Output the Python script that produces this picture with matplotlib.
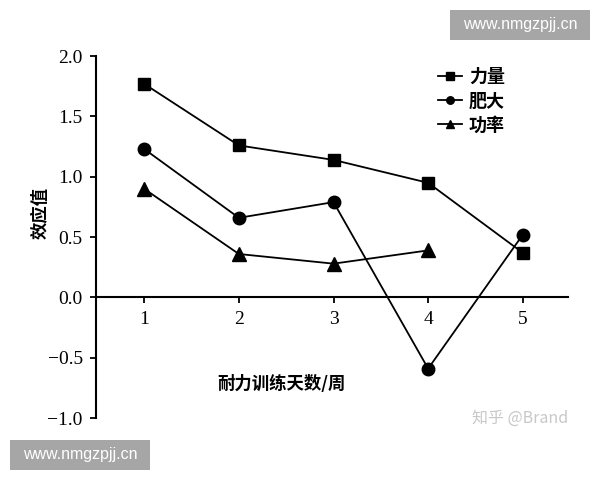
import matplotlib
matplotlib.use("Agg")
import matplotlib.pyplot as plt
from matplotlib.patches import Rectangle

days = [1, 2, 3, 4, 5]
strength = [1.77, 1.26, 1.14, 0.95, 0.37]
hypertrophy = [1.23, 0.66, 0.79, -0.59, 0.52]
power_days = [1, 2, 3, 4]
power = [0.90, 0.36, 0.28, 0.39]
series_labels = ["力量", "肥大", "功率"]
yticks = [-1.0, -0.5, 0.0, 0.5, 1.0, 1.5, 2.0]
ytick_labels = ["\u22121.0", "\u22120.5", "0.0", "0.5", "1.0", "1.5", "2.0"]
xlabel = "耐力训练天数/周"
ylabel = "效应值"

cjk = ["Noto Sans CJK SC", "DejaVu Sans"]
serif = "Liberation Serif"

fig = plt.figure(figsize=(6, 4.8), dpi=100)
fig.patch.set_facecolor("white")
ax = fig.add_axes([0.16, 0.129, 0.787, 0.754])

ax.plot(days, strength, color="black", lw=1.3, marker="s", ms=8.5, label=series_labels[0])
ax.plot(days, hypertrophy, color="black", lw=1.3, marker="o", ms=9, label=series_labels[1])
ax.plot(power_days, power, color="black", lw=1.3, marker="^", ms=9.5, label=series_labels[2])

ax.set_xlim(0.49, 5.48)
ax.set_ylim(-1.0, 2.0)
ax.spines["top"].set_visible(False)
ax.spines["right"].set_visible(False)
ax.spines["bottom"].set_position(("data", 0))
ax.spines["left"].set_linewidth(1.5)
ax.spines["bottom"].set_linewidth(1.5)
ax.set_xticks(days)
ax.set_xticklabels([str(d) for d in days], family=serif, fontsize=14)
ax.set_yticks(yticks)
ax.set_yticklabels(ytick_labels, family=serif, fontsize=14)
ax.tick_params(axis="both", direction="out", length=4.5, width=1.3, pad=5)

ax.text(2.45, -0.72, xlabel, ha="center", va="center", fontsize=12.5,
        fontweight="bold", family=cjk)
fig.text(0.067, 0.556, ylabel, rotation=90, ha="center", va="center",
         fontsize=12.5, fontweight="bold", family=cjk)

leg = ax.legend(loc="upper left", bbox_to_anchor=(0.69, 1.015), frameon=False,
                prop={"family": cjk, "size": 13, "weight": "bold"},
                handlelength=1.3, handletextpad=0.4, labelspacing=0.3, markerscale=0.6)

# watermarks
fig.patches.append(Rectangle((450/600, 1-40/480), 140/600, 30/480, transform=fig.transFigure,
                             facecolor="#a6a6a6", edgecolor="none"))
fig.text(520/600, 1-25/480, "www.nmgzpjj.cn", color="white", ha="center", va="center",
         fontsize=11.5, family=["Liberation Sans", "DejaVu Sans"])
fig.patches.append(Rectangle((10/600, 1-470/480), 140/600, 30/480, transform=fig.transFigure,
                             facecolor="#a6a6a6", edgecolor="none"))
fig.text(80/600, 1-455/480, "www.nmgzpjj.cn", color="white", ha="center", va="center",
         fontsize=11.5, family=["Liberation Sans", "DejaVu Sans"])
fig.text(520/600, 1-418/480, "知乎 @Brand", color="#c8c8c8", ha="center", va="center",
         fontsize=11.5, family=cjk)

fig.savefig("out.png", dpi=100)
